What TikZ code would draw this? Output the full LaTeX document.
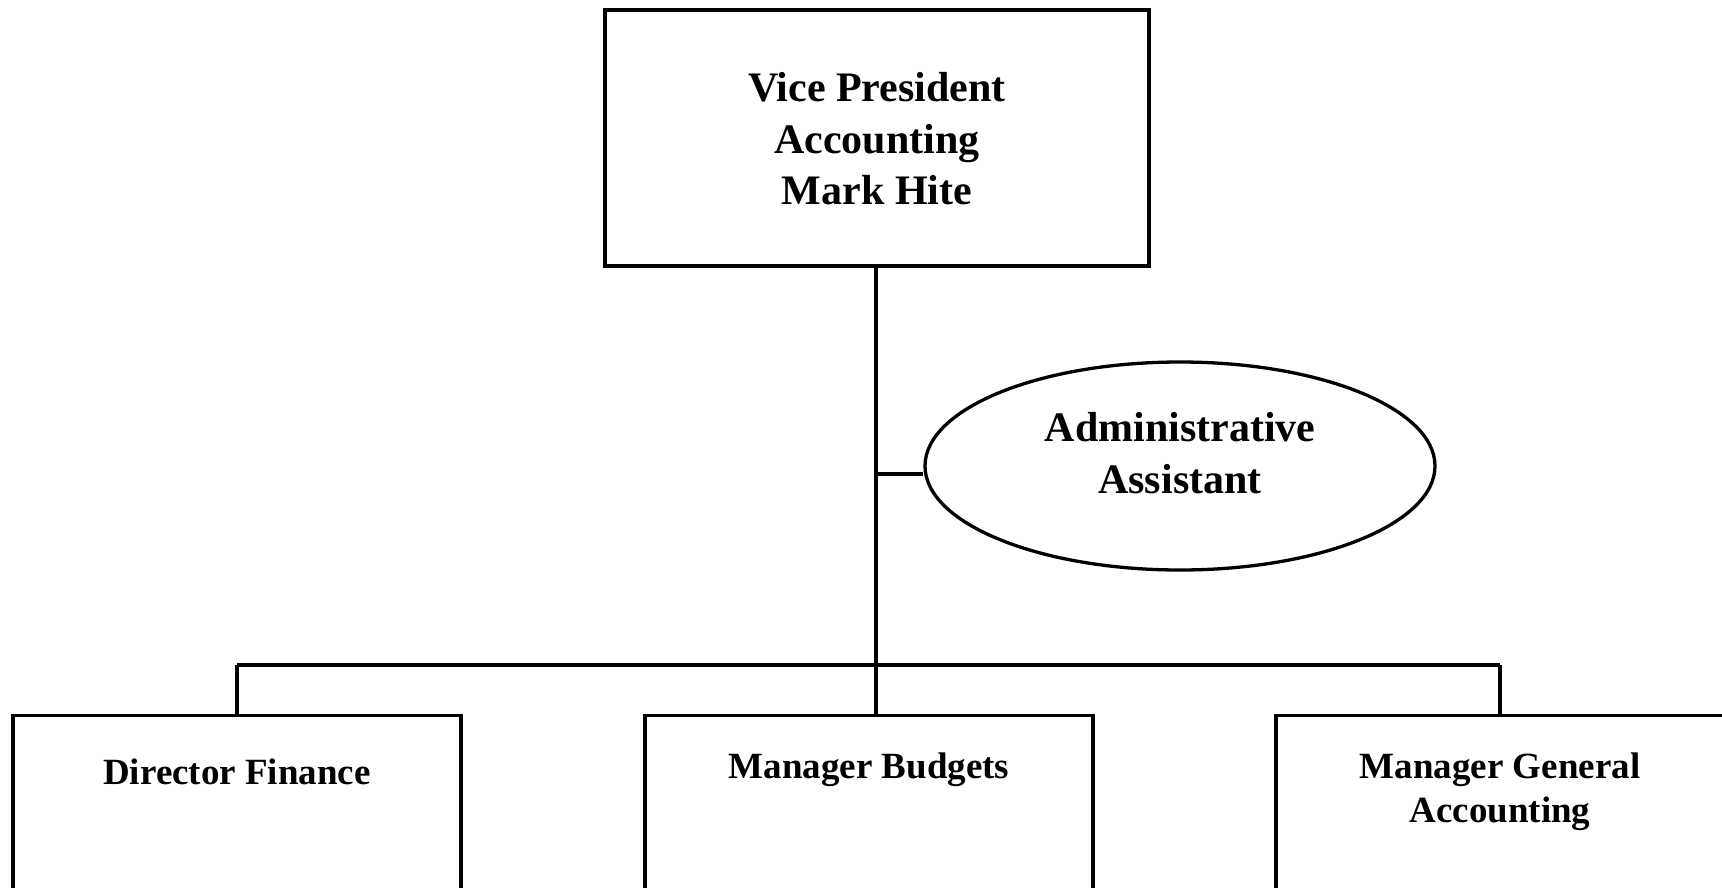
\documentclass[tikz,border=0pt]{standalone}
\usepackage{fontspec}
\setmainfont{Liberation Serif}
\usetikzlibrary{shapes.geometric}
\begin{document}
\begin{tikzpicture}[x=1pt,y=-1pt,
  conn/.style={line width=3.3pt},
  box/.style={draw,line width=3.3pt,rectangle,inner sep=0pt},
  oval/.style={draw,line width=3.3pt,ellipse,inner sep=0pt},
  big/.style={font=\bfseries\fontsize{42}{51.6}\selectfont,align=center,inner sep=0pt},
  small/.style={font=\bfseries\fontsize{37}{44}\selectfont,align=center,inner sep=0pt}]
\useasboundingbox (0,0) rectangle (1722,887);
% top box
\node[box,minimum width=544pt,minimum height=256pt] (vp) at (877,138) {};
\node[big] (vpt) at (877,139) {Vice President\\Accounting\\Mark Hite};
% assistant
\node[oval,minimum width=510pt,minimum height=208pt] (aa) at (1180,466) {};
\node[big] (aat) at (1180,453) {Administrative\\Assistant};
% bottom boxes
\node[box,anchor=north,minimum width=448pt,minimum height=220pt] (df) at (237,714) {};
\node[box,anchor=north,minimum width=448pt,minimum height=220pt] (mb) at (869,714) {};
\node[box,anchor=north,minimum width=448pt,minimum height=220pt] (mg) at (1500,714) {};
\node[small] (dft) at (237,772) {Director Finance};
\node[small] (mbt) at (869,770) {Manager Budgets};
\node[small] (mgt) at (1500,792) {Manager General\\Accounting};
% connectors
\coordinate (j) at (876,474);
\coordinate (m) at (876,665);
\coordinate (l) at (237,665);
\coordinate (r) at (1500,665);
\draw[conn] (vp.south -| m) -- (m);
\draw[conn] (j) -- (aa.west |- j);
\draw[conn] (l) -- (r);
\draw[conn] (l) -- (df.north);
\draw[conn] (m) -- (m |- mb.north);
\draw[conn] (r) -- (mg.north);
\end{tikzpicture}
\end{document}
